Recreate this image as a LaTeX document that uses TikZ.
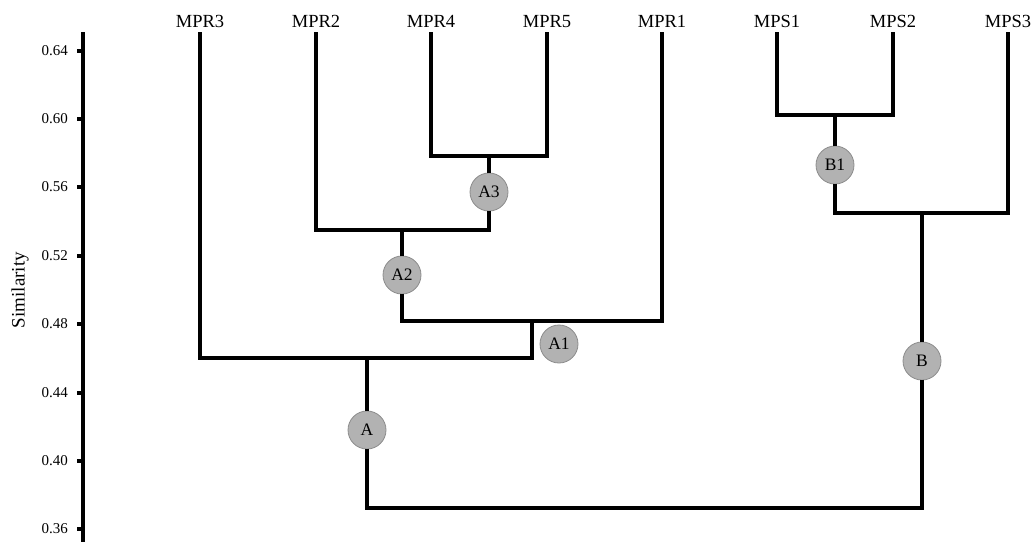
\documentclass[tikz,border=0pt]{standalone}
\usepackage{fontspec}
\setmainfont{Liberation Serif}
\begin{document}
\begin{tikzpicture}[x=1pt,y=-1pt,
  branch/.style={line width=3.2pt, line join=miter},
  axisline/.style={line width=3.2pt},
  leaf/.style={font=\fontsize{18.5}{18.5}\selectfont, inner sep=0pt, anchor=base},
  ticklabel/.style={font=\fontsize{15}{15}\selectfont, inner sep=0pt, anchor=east},
  cluster/.style={circle, minimum size=38pt, inner sep=0pt, fill=black!30,
    draw=black!45, line width=0.8pt, font=\fontsize{17.5}{17.5}\selectfont}]
\useasboundingbox (0,0) rectangle (1035,542);

% similarity axis
\draw[axisline] (83,32) -- (83,542);
\foreach \v/\y in {0.64/51,0.60/119,0.56/187,0.52/256,0.48/324,0.44/393,0.40/461,0.36/529}{
  \draw[axisline] (77,\y) -- (83,\y);
  \node[ticklabel] at (68,\y) {\v};
}
\node[rotate=90, font=\fontsize{19}{19}\selectfont] (ylab) at (20,290) {Similarity};

% leaves
\foreach \n/\x in {MPR3/200,MPR2/316,MPR4/431,MPR5/547,MPR1/662,MPS1/777,MPS2/893,MPS3/1008}{
  \node[leaf] (\n) at (\x,27.5) {\n};
  \coordinate (\n-t) at (\x,32);
}

% cluster labels
\node[cluster] (A3) at (489,192) {A3};
\node[cluster] (A2) at (402,275) {A2};
\node[cluster] (A1) at (559,344) {A1};
\node[cluster] (A)  at (367,430) {A};
\node[cluster] (B1) at (835,165) {B1};
\node[cluster] (B)  at (922,361) {B};

% junction points
\coordinate (c45) at (489,156);
\coordinate (c245r) at (489,230);
\coordinate (c245) at (402,230);
\coordinate (c1l) at (402,321);
\coordinate (c1) at (532,321);
\coordinate (c3r) at (532,358);
\coordinate (c3) at (367,358);
\coordinate (rootl) at (367,508);
\coordinate (rootr) at (922,508);
\coordinate (cS12) at (835,115);
\coordinate (cS3l) at (835,213);
\coordinate (cS3) at (922,213);

% cluster A
\draw[branch] (MPR4-t) |- (c45) -| (MPR5-t);
\draw[branch] (c45) -- (A3.north);
\draw[branch] (A3.south) -- (c245r) -| (MPR2-t);
\draw[branch] (c245) -- (A2.north);
\draw[branch] (A2.south) -- (c1l) -| (MPR1-t);
\draw[branch] (c1) -- (c3r) -| (MPR3-t);
\draw[branch] (c3) -- (A.north);

% cluster B
\draw[branch] (MPS1-t) |- (cS12) -| (MPS2-t);
\draw[branch] (cS12) -- (B1.north);
\draw[branch] (B1.south) -- (cS3l) -| (MPS3-t);
\draw[branch] (cS3) -- (B.north);

% root
\draw[branch] (A.south) -- (rootl) -- (rootr) -- (B.south);
\end{tikzpicture}
\end{document}
